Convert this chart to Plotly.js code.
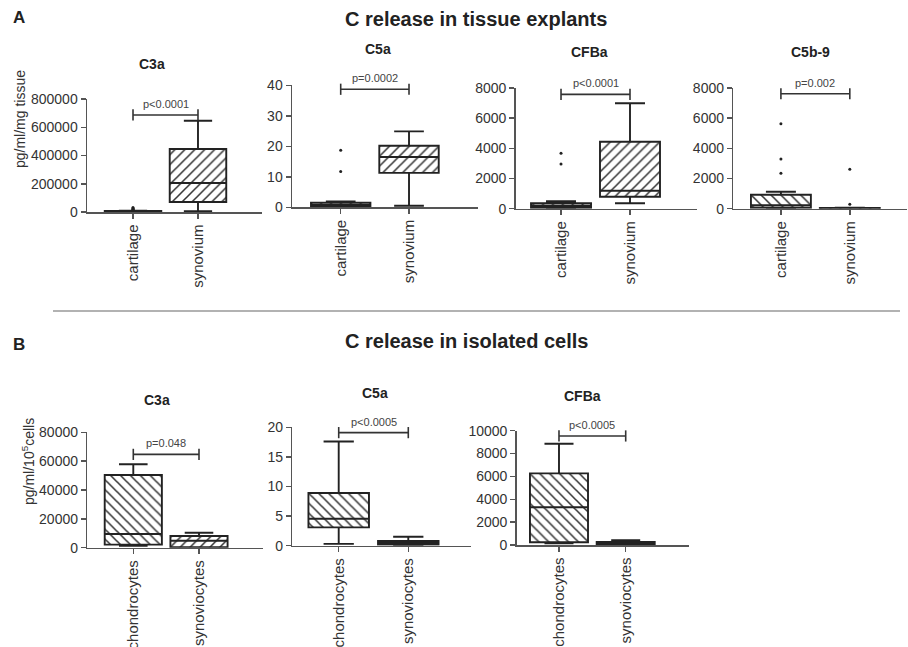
<!DOCTYPE html>
<html>
<head>
<meta charset="utf-8">
<script src="https://cdn.plot.ly/plotly-3.0.1.min.js"></script>
<style>html,body{margin:0;padding:0;background:#fff;}#chart{width:908px;height:647px;}</style>
</head>
<body>
<div id="chart"></div>
<script>
// ---------- DATA ----------
const groupsTissue = ['cartilage', 'synovium'];
const groupsCells = ['chondrocytes', 'synoviocytes'];
const panelTitles = ['C3a', 'C5a', 'CFBa', 'C5b-9', 'C3a', 'C5a', 'CFBa'];
const pLabels = ['p<0.0001', 'p=0.0002', 'p<0.0001', 'p=0.002', 'p=0.048', 'p<0.0005', 'p<0.0005'];
const bracketLevels = [687000, 38.7, 7580, 7620, 64700, 19.1, 9540];
const yMax = [800000, 40, 8000, 8000, 80000, 20, 10000];
const yStep = [200000, 10, 2000, 2000, 20000, 5, 2000];

// box stats: [lower whisker, q1, median, q3, upper whisker]
const tC3aCartilage = [0, 500, 3000, 7000, 9000];
const tC3aSynovium = [5000, 71000, 205000, 446000, 646000];
const tC5aCartilage = [0.1, 0.3, 0.8, 1.5, 1.9];
const tC5aSynovium = [0.5, 11.3, 16.5, 20.2, 24.9];
const tCFBaCartilage = [40, 60, 200, 360, 490];
const tCFBaSynovium = [358, 795, 1190, 4440, 6985];
const tC5b9Cartilage = [30, 66, 225, 928, 1127];
const tC5b9Synovium = [0, 5, 20, 45, 60];
const cC3aChondro = [1400, 2100, 9500, 50400, 57800];
const cC3aSynovio = [0, 300, 4850, 8100, 10400];
const cC5aChondro = [0.3, 3.1, 4.56, 8.9, 17.6];
const cC5aSynovio = [0.1, 0.2, 0.5, 0.8, 1.5];
const cCFBaChondro = [150, 240, 3300, 6270, 8860];
const cCFBaSynovio = [30, 60, 150, 260, 410];

// outliers
const tC3aCartilageOut = [31000, 26000, 20000, 19000];
const tC5aCartilageOut = [18.7, 11.7];
const tCFBaCartilageOut = [3670, 2960];
const tC5b9CartilageOut = [5634, 3294, 2346];
const tC5b9SynoviumOut = [2611, 292];

const panelStats = [
  [tC3aCartilage, tC3aSynovium], [tC5aCartilage, tC5aSynovium],
  [tCFBaCartilage, tCFBaSynovium], [tC5b9Cartilage, tC5b9Synovium],
  [cC3aChondro, cC3aSynovio], [cC5aChondro, cC5aSynovio], [cCFBaChondro, cCFBaSynovio]
];
const panelOutliers = [
  [tC3aCartilageOut, []], [tC5aCartilageOut, []], [tCFBaCartilageOut, []],
  [tC5b9CartilageOut, tC5b9SynoviumOut], [[], []], [[], []], [[], []]
];
const panelGroups = [groupsTissue, groupsTissue, groupsTissue, groupsTissue, groupsCells, groupsCells, groupsCells];

// ---------- LAYOUT GEOMETRY (pixels) ----------
const W = 908, H = 647;
const geom = [
  {x0: 87, x1: 262, y0: 99, y1: 212, r: [-0.708, 1.985], tx: 151.7, ty: 64},
  {x0: 292, x1: 478, y0: 85.3, y1: 207.3, r: [-0.713, 2.01], tx: 378, ty: 49},
  {x0: 515.7, x1: 696.7, y0: 88, y1: 208.7, r: [-0.657, 1.967], tx: 589, ty: 52},
  {x0: 733.3, x1: 907, y0: 88, y1: 208.7, r: [-0.691, 1.83], tx: 810, ty: 52},
  {x0: 87.3, x1: 263, y0: 432.3, y1: 547.7, r: [-0.70, 1.974], tx: 156.7, ty: 400},
  {x0: 292.3, x1: 470.7, y0: 427.3, y1: 545.7, r: [-0.667, 1.897], tx: 375, ty: 392.7},
  {x0: 516.7, x1: 689, y0: 430.7, y1: 545, r: [-0.634, 1.949], tx: 582.7, ty: 396}
];
const FONT = 'Liberation Sans, Arial, sans-serif';
const INK = '#222';
const hatch = ['\\', '/'];
const boxW = 0.87;

const traces = [];
const layout = {
  width: W, height: H,
  margin: {l: 0, r: 0, t: 0, b: 0},
  paper_bgcolor: '#fff', plot_bgcolor: 'rgba(0,0,0,0)',
  showlegend: false,
  barmode: 'overlay', boxmode: 'overlay',
  font: {family: FONT, color: '#333'},
  annotations: [], shapes: []
};

panelStats.forEach((stats, i) => {
  const n = i + 1;
  const xa = 'x' + (n === 1 ? '' : n), ya = 'y' + (n === 1 ? '' : n);
  const g = geom[i];
  const xs = [0, 1];
  // hatched fill
  traces.push({
    type: 'bar', x: xs, xaxis: xa, yaxis: ya,
    base: stats.map(s => s[1]), y: stats.map(s => s[3] - s[1]),
    width: boxW,
    marker: {color: '#fff', line: {width: 0},
      pattern: {shape: hatch, size: 7, solidity: 0.22, fgcolor: '#333', bgcolor: '#fff'}},
    hoverinfo: 'skip'
  });
  // box outline, median, whiskers
  traces.push({
    type: 'box', x: xs, xaxis: xa, yaxis: ya,
    lowerfence: stats.map(s => s[0]), q1: stats.map(s => s[1]),
    median: stats.map(s => s[2]), q3: stats.map(s => s[3]),
    upperfence: stats.map(s => s[4]),
    width: boxW, whiskerwidth: 0.5,
    fillcolor: 'rgba(0,0,0,0)', line: {color: INK, width: 1.9},
    boxpoints: false
  });
  // outliers
  const ox = [], oy = [];
  panelOutliers[i].forEach((arr, k) => arr.forEach(v => { ox.push(k); oy.push(v); }));
  if (ox.length) {
    traces.push({type: 'scatter', mode: 'markers', x: ox, y: oy, xaxis: xa, yaxis: ya,
      marker: {size: 3, color: INK}, cliponaxis: false});
  }
  // significance bracket
  traces.push({type: 'scatter', mode: 'lines+markers', x: xs, y: [bracketLevels[i], bracketLevels[i]],
    xaxis: xa, yaxis: ya, line: {color: '#333', width: 1.6},
    marker: {symbol: 'line-ns-open', size: 8, line: {color: '#333', width: 1.6}},
    cliponaxis: false});
  layout.annotations.push({xref: xa, yref: ya, x: 0.5, y: bracketLevels[i], yshift: 11,
    text: pLabels[i], showarrow: false, font: {size: 11, color: '#444444', family: FONT}});
  // subplot title
  layout.annotations.push({xref: 'paper', yref: 'paper', x: g.tx / W, y: 1 - g.ty / H,
    text: '<b>' + panelTitles[i] + '</b>', showarrow: false, xanchor: 'center', yanchor: 'middle',
    font: {size: 14, color: INK, family: FONT}});
  layout['xaxis' + (n === 1 ? '' : n)] = {
    domain: [g.x0 / W, g.x1 / W], anchor: ya, range: g.r,
    tickvals: xs, ticktext: panelGroups[i], tickangle: -90,
    showline: true, linecolor: '#555', linewidth: 1.5,
    ticks: 'outside', ticklen: 5, tickwidth: 1.5, tickcolor: '#555',
    showgrid: false, zeroline: false, fixedrange: true,
    tickfont: {size: 15, color: '#333', family: FONT}
  };
  layout['yaxis' + (n === 1 ? '' : n)] = {
    domain: [1 - g.y1 / H, 1 - g.y0 / H], anchor: xa, range: [0, yMax[i]],
    dtick: yStep[i], tick0: 0, tickformat: 'd',
    showline: true, linecolor: '#555', linewidth: 1.5,
    ticks: 'outside', ticklen: 5, tickwidth: 1.5, tickcolor: '#555',
    showgrid: false, zeroline: false, fixedrange: true,
    tickfont: {size: 14, color: '#333', family: FONT}
  };
});

// figure-level texts
const addText = (text, x, y, size, opts) => layout.annotations.push(Object.assign({
  xref: 'paper', yref: 'paper', x: x / W, y: 1 - y / H, text: text, showarrow: false,
  xanchor: 'center', yanchor: 'middle', font: {size: size, color: INK, family: FONT}}, opts || {}));
addText('<b>A</b>', 19, 17.5, 17);
addText('<b>B</b>', 19, 344, 17);
addText('<b>C release in tissue explants</b>', 476, 19, 20);
addText('<b>C release in isolated cells</b>', 466, 340.7, 20);
addText('pg/ml/mg tissue', 20, 119, 14, {textangle: -90, font: {size: 14, color: '#333', family: FONT}});
addText('pg/ml/10<sup>5</sup>cells', 28, 462, 14, {textangle: -90, font: {size: 14, color: '#333', family: FONT}});

layout.shapes.push({type: 'line', xref: 'paper', yref: 'paper', x0: 53 / W, x1: 900 / W,
  y0: 1 - 311 / H, y1: 1 - 311 / H, line: {color: '#999', width: 1.5}});

Plotly.newPlot('chart', traces, layout, {staticPlot: true, displayModeBar: false});
</script>
</body>
</html>
